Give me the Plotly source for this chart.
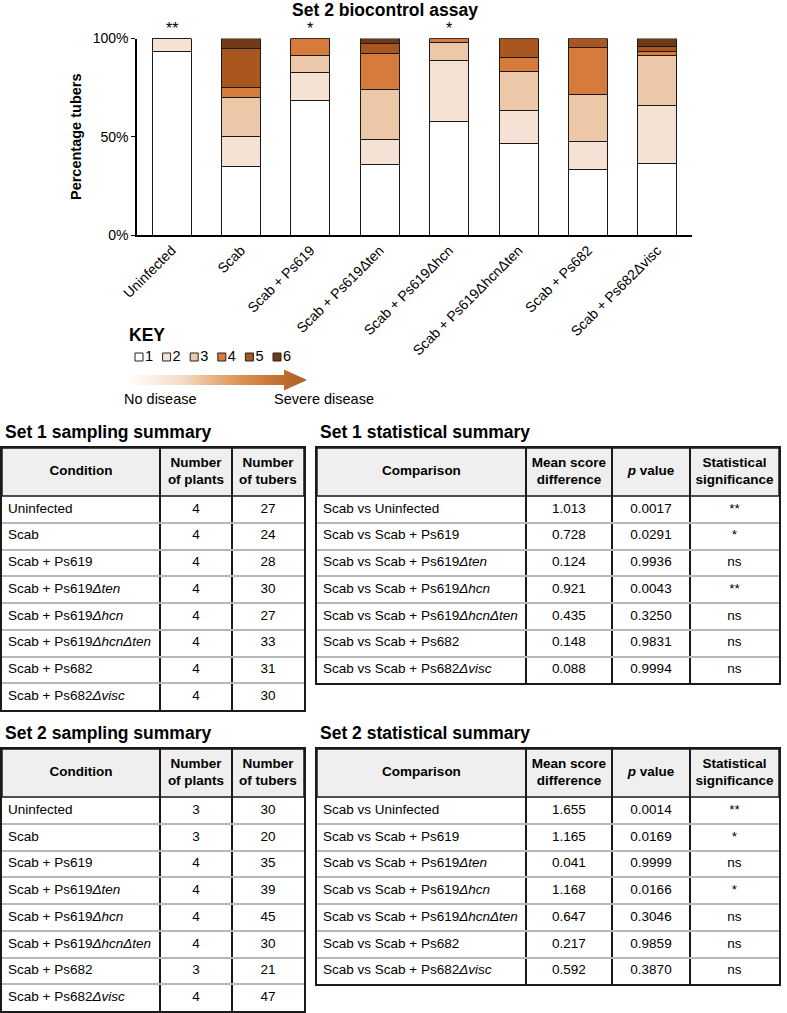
import plotly.graph_objects as go

W, H = 787, 1013
FONT = "Liberation Sans, Arial, Helvetica, sans-serif"

# ---------------- Data: Set 2 biocontrol assay (percentage of tubers per disease score)
categories = ["Uninfected", "Scab", "Scab + Ps619", "Scab + Ps619Δten", "Scab + Ps619Δhcn",
              "Scab + Ps619ΔhcnΔten", "Scab + Ps682", "Scab + Ps682Δvisc"]
score1 = [93.3, 35.0, 68.6, 35.9, 57.8, 46.7, 33.3, 36.2]
score2 = [6.7, 15.0, 14.3, 12.8, 31.1, 16.7, 14.3, 29.8]
score3 = [0.0, 20.0, 8.6, 25.6, 8.9, 20.0, 23.8, 25.5]
score4 = [0.0, 5.0, 8.6, 17.9, 2.2, 6.7, 23.8, 2.1]
score5 = [0.0, 20.0, 0.0, 5.1, 0.0, 10.0, 4.8, 2.1]
score6 = [0.0, 5.0, 0.0, 2.6, 0.0, 0.0, 0.0, 4.3]
significance = ["**", "", "*", "", "*", "", "", ""]
score_labels = ["1", "2", "3", "4", "5", "6"]
score_colors = ["#ffffff", "#f6e2d4", "#ecc8a9", "#d67b3b", "#a9571f", "#6e3a17"]
y_tickvals = [0, 50, 100]
y_ticktext = ["0%", "50%", "100%"]

# ---------------- Data: tables
conditions = ["Uninfected", "Scab", "Scab + Ps619", "Scab + Ps619<i>Δten</i>", "Scab + Ps619<i>Δhcn</i>",
              "Scab + Ps619<i>ΔhcnΔten</i>", "Scab + Ps682", "Scab + Ps682<i>Δvisc</i>"]
set1_plants = [4, 4, 4, 4, 4, 4, 4, 4]
set1_tubers = [27, 24, 28, 30, 27, 33, 31, 30]
set2_plants = [3, 3, 4, 4, 4, 4, 3, 4]
set2_tubers = [30, 20, 35, 39, 45, 30, 21, 47]

comparisons = ["Scab vs Uninfected", "Scab vs Scab + Ps619", "Scab vs Scab + Ps619<i>Δten</i>",
               "Scab vs Scab + Ps619<i>Δhcn</i>", "Scab vs Scab + Ps619<i>ΔhcnΔten</i>",
               "Scab vs Scab + Ps682", "Scab vs Scab + Ps682<i>Δvisc</i>"]
set1_diff = ["1.013", "0.728", "0.124", "0.921", "0.435", "0.148", "0.088"]
set1_p = ["0.0017", "0.0291", "0.9936", "0.0043", "0.3250", "0.9831", "0.9994"]
set1_sig = ["**", "*", "ns", "**", "ns", "ns", "ns"]
set2_diff = ["1.655", "1.165", "0.041", "1.168", "0.647", "0.217", "0.592"]
set2_p = ["0.0014", "0.0169", "0.9999", "0.0166", "0.3046", "0.9859", "0.3870"]
set2_sig = ["**", "*", "ns", "*", "ns", "ns", "ns"]

sampling_header = ["Condition", "Number<br>of plants", "Number<br>of tubers"]
stats_header = ["Comparison", "Mean score<br>difference", "<i>p</i> value", "Statistical<br>significance"]

fig = go.Figure()


def px_x(p):
    return p / W


def px_y(p):
    return 1 - p / H


# ---------------- Stacked bars
scores = [score1, score2, score3, score4, score5, score6]
for lab, col, vals in zip(score_labels, score_colors, scores):
    fig.add_trace(go.Bar(x=categories, y=vals, name=lab,
                         marker=dict(color=col, line=dict(color="#1a1a1a", width=1)),
                         showlegend=False, hoverinfo="skip"))

for c, s in zip(categories, significance):
    if s:
        fig.add_annotation(x=c, y=100, xref="x", yref="y", text=s, showarrow=False, yanchor="bottom",
                           yshift=-1, font=dict(family=FONT, size=16, color="black"))

fig.update_layout(
    barmode="stack", bargap=0.437,
    xaxis=dict(domain=[px_x(137), px_x(692)], showline=True, linecolor="black", linewidth=1.5,
               tickangle=-45, tickfont=dict(family=FONT, size=14, color="black"), ticks="",
               fixedrange=True, automargin=False),
    yaxis=dict(domain=[px_y(235), px_y(38.5)], range=[0, 100], tickmode="array",
               tickvals=y_tickvals, ticktext=y_ticktext,
               showline=True, linecolor="black", linewidth=1.5, ticks="outside", ticklen=4, tickcolor="black",
               showgrid=False, zeroline=False, tickfont=dict(family=FONT, size=14, color="black"),
               title=dict(text="<b>Percentage tubers</b>", font=dict(family=FONT, size=14.5, color="black"),
                          standoff=8), fixedrange=True, automargin=False),
)

# ---------------- Key (on a helper axis measured in pixels)
key_x = [139 + 27.6 * i for i in range(len(score_labels))]
fig.add_trace(go.Scatter(x=key_x, y=[357] * 6, mode="markers+text", xaxis="x2", yaxis="y2",
                         marker=dict(symbol="square", size=8, color=score_colors,
                                     line=dict(color="#222222", width=1)),
                         text=score_labels, textposition="middle right",
                         textfont=dict(family=FONT, size=14.5, color="black"),
                         showlegend=False, hoverinfo="skip"))
arrow_x = [127, 284, 284, 307, 284, 284, 127, 127]
arrow_y = [375, 375, 369.5, 380, 390.5, 385, 385, 375]
fig.add_trace(go.Scatter(x=arrow_x, y=arrow_y, xaxis="x2", yaxis="y2", mode="lines", fill="toself",
                         line=dict(width=0, color="rgba(0,0,0,0)"),
                         fillgradient=dict(type="horizontal",
                                           colorscale=[[0, "rgba(255,255,255,1)"], [0.3, "#f6dcc8"],
                                                       [0.6, "#e0975c"], [0.85, "#c26f32"], [1, "#ad5e25"]]),
                         showlegend=False, hoverinfo="skip"))
fig.update_layout(
    xaxis2=dict(domain=[0, px_x(420)], range=[0, 420], visible=False, anchor="y2", fixedrange=True),
    yaxis2=dict(domain=[px_y(420), px_y(320)], range=[420, 320], visible=False, anchor="x2", fixedrange=True),
)

fig.add_annotation(x=px_x(127), y=px_y(335), xref="paper", yref="paper", text="<b>KEY</b>", showarrow=False,
                   xanchor="left", yanchor="middle", font=dict(family=FONT, size=17.5, color="black"))
fig.add_annotation(x=px_x(122), y=px_y(399), xref="paper", yref="paper", text="No disease", showarrow=False,
                   xanchor="left", yanchor="middle", font=dict(family=FONT, size=14.5, color="black"))
fig.add_annotation(x=px_x(272), y=px_y(399), xref="paper", yref="paper", text="Severe disease", showarrow=False,
                   xanchor="left", yanchor="middle", font=dict(family=FONT, size=14.5, color="black"))

# ---------------- Tables, each drawn on its own pair of axes (units = pixels)
HEADER_H = 48
ROW_H = 26.75
TFONT = 13.5
PAD = 6
shapes = []
BLACK = "#1a1a1a"


def add_table(idx, title, x0, x1, top, colwidths, header, columns, aligns):
    nrows = len(columns[0])
    total_h = HEADER_H + ROW_H * nrows
    width = x1 - x0
    tot = sum(colwidths)
    edges = [0.0]
    acc = 0
    for w in colwidths:
        acc += w
        edges.append(width * acc / tot)
    xn, yn = "x%d" % idx, "y%d" % idx
    fig.update_layout({
        "xaxis%d" % idx: dict(domain=[px_x(x0), px_x(x1)], range=[0, width], anchor=yn,
                              tickmode="array", tickvals=edges[1:-1], showgrid=True, gridcolor=BLACK,
                              gridwidth=1.5, showticklabels=False, ticks="", zeroline=False,
                              showline=True, mirror=True, linecolor=BLACK, linewidth=1.5, fixedrange=True),
        "yaxis%d" % idx: dict(domain=[px_y(top + total_h), px_y(top)], range=[total_h, 0], anchor=xn,
                              tickmode="array", tickvals=[HEADER_H + ROW_H * i for i in range(1, nrows)],
                              showgrid=True, gridcolor="#b8b8b8", gridwidth=1.5, showticklabels=False,
                              ticks="", zeroline=False, showline=True, mirror=True, linecolor=BLACK,
                              linewidth=1.5, fixedrange=True),
    })
    shapes.append(dict(type="rect", xref=xn, yref=yn, x0=0, x1=width, y0=0, y1=HEADER_H,
                       fillcolor="#efefef", line=dict(color=BLACK, width=1.5), layer="below"))
    # header
    fig.add_trace(go.Scatter(x=[(edges[j] + edges[j + 1]) / 2 for j in range(len(header))],
                             y=[HEADER_H / 2] * len(header), xaxis=xn, yaxis=yn, mode="text",
                             text=["<b>%s</b>" % h for h in header], textposition="middle center",
                             textfont=dict(family=FONT, size=TFONT, color="black"),
                             showlegend=False, hoverinfo="skip"))
    # body
    ys = [HEADER_H + ROW_H * (i + 0.5) for i in range(nrows)]
    for j, (col, al) in enumerate(zip(columns, aligns)):
        if al == "left":
            xs, pos = [edges[j] + PAD] * nrows, "middle right"
        else:
            xs, pos = [(edges[j] + edges[j + 1]) / 2] * nrows, "middle center"
        fig.add_trace(go.Scatter(x=xs, y=ys, xaxis=xn, yaxis=yn, mode="text", text=[str(v) for v in col],
                                 textposition=pos, textfont=dict(family=FONT, size=TFONT, color="black"),
                                 showlegend=False, hoverinfo="skip", cliponaxis=False))
    fig.add_annotation(x=px_x(x0 + 1), y=px_y(top - 16), xref="paper", yref="paper", text="<b>%s</b>" % title,
                       showarrow=False, xanchor="left", yanchor="middle",
                       font=dict(family=FONT, size=17.5, color="black"))


add_table(3, "Set 1 sampling summary", 2, 304, 448, [158, 72, 72], sampling_header,
          [conditions, set1_plants, set1_tubers], ["left", "center", "center"])
add_table(4, "Set 1 statistical summary", 317, 779, 448, [209, 86, 78, 89], stats_header,
          [comparisons, set1_diff, set1_p, set1_sig], ["left", "center", "center", "center"])
add_table(5, "Set 2 sampling summary", 2, 304, 749, [158, 72, 72], sampling_header,
          [conditions, set2_plants, set2_tubers], ["left", "center", "center"])
add_table(6, "Set 2 statistical summary", 317, 779, 749, [209, 86, 78, 89], stats_header,
          [comparisons, set2_diff, set2_p, set2_sig], ["left", "center", "center", "center"])

fig.update_layout(
    width=W, height=H, margin=dict(l=0, r=0, t=0, b=0, autoexpand=False),
    paper_bgcolor="white", plot_bgcolor="white",
    title=dict(text="<b>Set 2 biocontrol assay</b>", x=px_x(385), xanchor="center", y=px_y(10),
               yanchor="middle", font=dict(family=FONT, size=17.5, color="black")),
    shapes=shapes,
    showlegend=False,
)

fig.write_html("out.html", config={"displayModeBar": False},
               post_script="document.body.style.margin='0';document.body.style.overflow='hidden';")
